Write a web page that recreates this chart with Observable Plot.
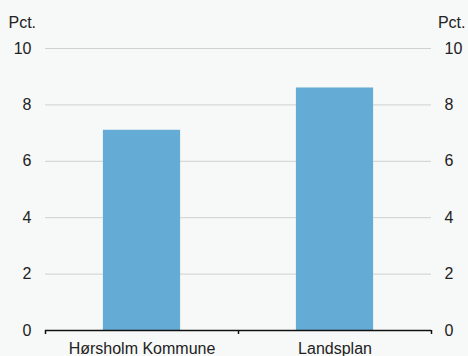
<!DOCTYPE html>
<html><head><meta charset="utf-8">
<script src="https://cdn.jsdelivr.net/npm/d3@7"></script>
<script src="https://cdn.jsdelivr.net/npm/@observablehq/plot@0.6"></script>
<style>
html,body{margin:0;padding:0;background:#f7f8f8;}
#chart svg{display:block;background:#f7f8f8;}
</style></head>
<body><div id="chart"></div>
<script>
const categories = ["Hørsholm Kommune", "Landsplan"];
const values = [7.1, 8.6];
const yTicks = [0, 2, 4, 6, 8, 10];
const unitLabel = "Pct.";

const data = categories.map((c, i) => ({cat: c, i, v: values[i]}));
const font = "Liberation Sans, Arial, Helvetica, sans-serif";
const fs = 16;

const chart = Plot.plot({
  width: 468, height: 356,
  marginLeft: 45, marginRight: 37, marginTop: 48, marginBottom: 26,
  style: {fontFamily: font, fontSize: fs + "px", color: "#222", background: "#f7f8f8"},
  x: {domain: [0, categories.length], axis: null},
  y: {domain: [0, 10], axis: null},
  marks: [
    Plot.gridY(yTicks.filter(d => d > 0), {stroke: "#cfd1d1", strokeOpacity: 1, strokeWidth: 1}),
    Plot.rectY(data, {x1: d => d.i + 0.3, x2: d => d.i + 0.7, y: "v", fill: "#64abd5"}),
    Plot.axisY(yTicks, {anchor: "left", tickSize: 0, tickPadding: 14, fontSize: fs, fill: "#222", label: null}),
    Plot.axisY(yTicks, {anchor: "right", tickSize: 0, tickPadding: 13, fontSize: fs, fill: "#222", label: null}),
    Plot.ruleY([0], {stroke: "#111", strokeWidth: 1.5}),
    Plot.axisX(d3.range(categories.length + 1), {tickSize: 4, tickFormat: () => "", stroke: "#111", strokeWidth: 1.5, label: null}),
    Plot.axisX(data.map(d => d.i + 0.5), {tickSize: 0, tickPadding: 12, tickFormat: (d) => categories[Math.floor(d)], fontSize: fs, fill: "#222", label: null}),
    Plot.text([unitLabel], {frameAnchor: "top-left", lineAnchor: "bottom", dx: -37, dy: -21, text: d => d, fontSize: fs, fill: "#222", textAnchor: "start"}),
    Plot.text([unitLabel], {frameAnchor: "top-right", lineAnchor: "bottom", dx: 34, dy: -21, text: d => d, fontSize: fs, fill: "#222", textAnchor: "end"})
  ]
});
document.getElementById("chart").append(chart);
</script></body></html>
